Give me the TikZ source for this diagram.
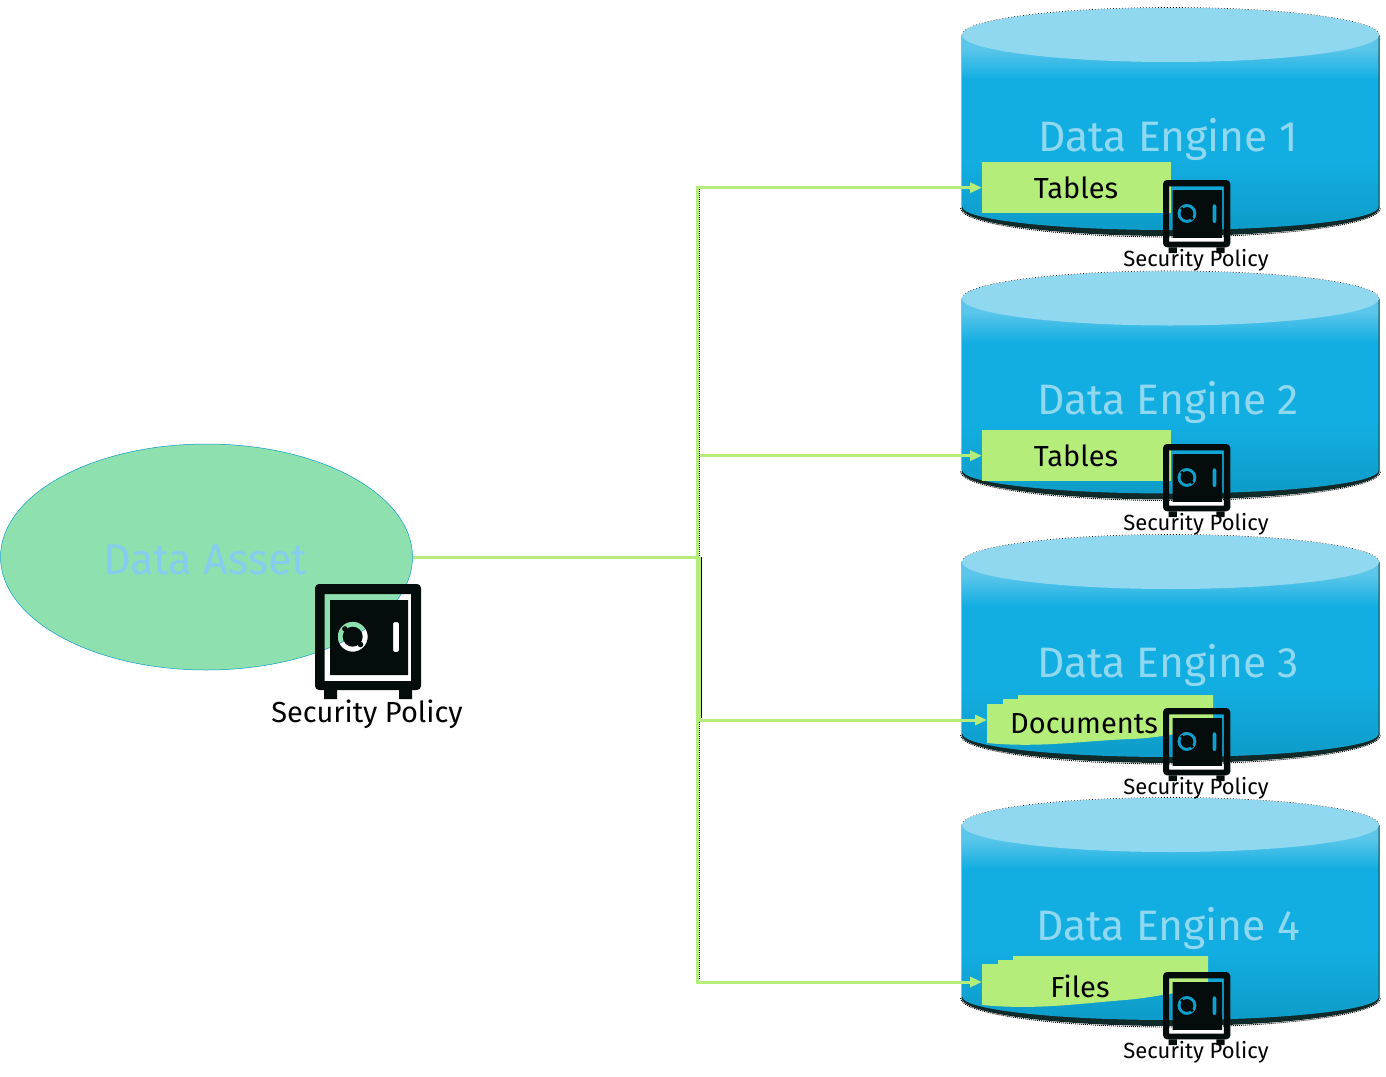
\documentclass[tikz,border=0pt]{standalone}
\usepackage{fontspec}
\setmainfont{Fira Sans}
\usetikzlibrary{arrows.meta,shapes.geometric}
\definecolor{bodyc}{HTML}{12AEE2}
\definecolor{bodyd}{HTML}{0E9CC9}
\definecolor{bodyl}{HTML}{5CC6EA}
\definecolor{topc}{HTML}{90D8F0}
\definecolor{greenc}{HTML}{B5ED7A}
\definecolor{assetc}{HTML}{8EE0AE}
\definecolor{darkc}{HTML}{040C0C}
\definecolor{edgec}{HTML}{102A2A}
\definecolor{labelc}{HTML}{90D8F0}
\definecolor{assetlabelc}{HTML}{86CCEE}
\pgfdeclareverticalshading{bodyshade}{100bp}{color(0bp)=(bodyd);color(25bp)=(bodyd);color(41.5bp)=(bodyc);color(59bp)=(bodyc);color(66bp)=(bodyl);color(100bp)=(bodyl)}
\tikzset{
  conn/.style={draw=greenc,line width=3pt},
  arrowconn/.style={conn,-{Triangle[length=12pt,width=10pt,fill=greenc]}},
  enginetitle/.style={text=labelc,font=\fontsize{42.6}{42.6}\selectfont,inner sep=0pt,anchor=center},
  storelabel/.style={text=black,font=\fontsize{29}{29}\selectfont,inner sep=0pt,anchor=center},
  policysmall/.style={text=black,font=\fontsize{22}{22}\selectfont,inner sep=0pt,anchor=center},
  policybig/.style={text=black,font=\fontsize{29}{29}\selectfont,inner sep=0pt,anchor=center},
  storebox/.style={fill=greenc,draw=none,inner sep=0pt,anchor=north west}
}
% cylinder, #1 = top offset
\newcommand{\enginecyl}[1]{%
  \begin{scope}[shift={(0,#1)}]
    \fill[edgec] (961.5,35) -- (961.5,208) arc[start angle=180,end angle=0,x radius=209,y radius=28] -- (1379.5,35) -- cycle;
    \draw[black,line width=.9pt,dash pattern=on 1pt off 1pt] (960.5,208) arc[start angle=180,end angle=0,x radius=210,y radius=29];
    \shade[shading=bodyshade] (962.5,35) -- (962.5,207) arc[start angle=180,end angle=0,x radius=208,y radius=23] -- (1378.5,35) arc[start angle=0,end angle=-180,x radius=208,y radius=27] -- cycle;
    \draw[black,line width=.6pt,dash pattern=on 1pt off 2pt] (962,35) arc[start angle=180,end angle=360,x radius=208.5,y radius=27.5];
    \fill[topc] (1170.5,35) ellipse[x radius=208.5,y radius=27];
  \end{scope}}
% safe, #1 #2 = top left, #3 = scale
\newcommand{\safeicon}[3]{%
  \begin{scope}[shift={(#1,#2)},scale=#3]
    \fill[darkc,even odd rule,rounded corners=4pt] (0,0) rectangle (106,106) [sharp corners] (9.5,10) rectangle (96,97);
    \fill[darkc,even odd rule] (15,16) rectangle (93,91)
      (37.7,52.7) circle[radius=15]
      [rounded corners=2pt] (78,38) rectangle (84,68);
    \fill[darkc] (37.7,52.7) circle[radius=10];
    \foreach \a in {45,225}
      \fill[darkc] (37.7,52.7) ++(\a:11) circle[radius=2.8];
    \fill[darkc] (9,106) rectangle (22,115) (84,106) rectangle (97,115);
  \end{scope}}
\begin{document}
\begin{tikzpicture}[x=1pt,y=-1pt]
\useasboundingbox (0,0) rectangle (1386,1076);
\fill[white] (0,0) rectangle (1386,1076);

\enginecyl{0}
\enginecyl{263.5}
\enginecyl{527}
\enginecyl{790}

% asset
\node[ellipse,fill=assetc,draw=bodyd,line width=.5pt,minimum width=412pt,minimum height=226pt,inner sep=0pt] (asset) at (206.5,557) {};
\node[text=assetlabelc,font=\fontsize{43}{43}\selectfont,inner sep=0pt] (assetlabel) at (205,560) {Data Asset};

% titles
\node[enginetitle] (e1) at (1168,139) {Data Engine 1};
\node[enginetitle] (e2) at (1168,402) {Data Engine 2};
\node[enginetitle] (e3) at (1168,665) {Data Engine 3};
\node[enginetitle] (e4) at (1168,928) {Data Engine 4};

% stores
\node[storebox,minimum width=189pt,minimum height=51pt] (t1) at (982,162) {};
\node[storebox,minimum width=189pt,minimum height=51pt] (t2) at (982,430) {};
\fill[greenc] (987,704) -- (1003,704) -- (1003,699) -- (1018,699) -- (1018,695) -- (1213,695) -- (1213,730)
  .. controls (1185,730) and (1165,738) .. (1130,739) .. controls (1080,741) and (1040,748) .. (987,743) -- cycle;
\fill[greenc] (982,964) -- (998,964) -- (998,960) -- (1013,960) -- (1013,956) -- (1208,956) -- (1208,990)
  .. controls (1180,990) and (1160,997) .. (1125,1000) .. controls (1075,1004) and (1035,1010) .. (982,1005) -- cycle;
\coordinate (d3) at (987,720);
\coordinate (f4) at (982,982);

\node[storelabel] (l1) at (1076,188) {Tables};
\node[storelabel] (l2) at (1076,456) {Tables};
\node[storelabel] (l3) at (1084,724) {Documents};
\node[storelabel] (l4) at (1080,986) {Files};

% connectors
\coordinate (j) at (697.5,557);
\coordinate (j2) at (699.5,557);
\draw[black,line width=1pt] (698.5,983.7) -- (970,983.7);
\draw[conn] (asset.east) -- (j);
\draw[arrowconn] (j) |- (t1.west);
\draw[arrowconn] (j) |- (t2.west);
\draw[arrowconn] (j) |- (d3);
\draw[arrowconn] (j) |- (f4);
\draw[conn] (j2) -- (699.5,720);
\draw[black,line width=1pt] (701.5,557) -- (701.5,718);
\draw[black,line width=1pt,dash pattern=on 1pt off 1pt] (699.5,189) -- (699.5,556);
\draw[black,line width=1pt,dash pattern=on 1pt off 1pt] (699.5,722) -- (699.5,980);

% safes
\safeicon{315}{584}{1}
\safeicon{1163}{180}{.635}
\safeicon{1163}{444}{.635}
\safeicon{1163}{708}{.635}
\safeicon{1163}{972}{.635}

\node[policybig] (pb) at (367,714) {Security Policy};
\node[policysmall] (p1) at (1196,260) {Security Policy};
\node[policysmall] (p2) at (1196,524) {Security Policy};
\node[policysmall] (p3) at (1196,788) {Security Policy};
\node[policysmall] (p4) at (1196,1052) {Security Policy};
\end{tikzpicture}
\end{document}
